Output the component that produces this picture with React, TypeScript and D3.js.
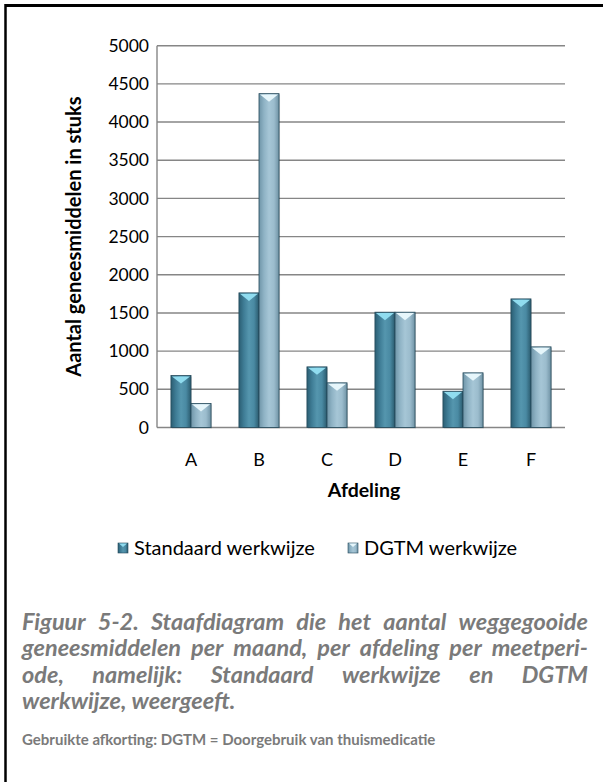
import React from "react";
import * as d3 from "d3";

const categories = ["A", "B", "C", "D", "E", "F"];
const seriesNames = ["Standaard werkwijze", "DGTM werkwijze"];
const standaard = [680, 1763, 794, 1510, 475, 1684];
const dgtm = [314, 4372, 585, 1510, 716, 1056];
const yTicks = [0, 500, 1000, 1500, 2000, 2500, 3000, 3500, 4000, 4500, 5000];

const captionLines = [
  "Figuur 5-2. Staafdiagram die het aantal weggegooide",
  "geneesmiddelen per maand, per afdeling per meetperi-",
  "ode, namelijk: Standaard werkwijze en DGTM",
  "werkwijze, weergeeft.",
];
const footnote = "Gebruikte afkorting: DGTM = Doorgebruik van thuismedicatie";

const FONT = "Lato, 'Open Sans', 'Liberation Sans', sans-serif";

let ctx: CanvasRenderingContext2D | null = null;
function measure(text: string, font: string) {
  if (!ctx) ctx = document.createElement("canvas").getContext("2d");
  if (!ctx) return text.length * 8;
  ctx.font = font;
  return ctx.measureText(text).width;
}

function Justified({ text, x, y, width, justify, fontSize }: any) {
  const font = `italic bold ${fontSize}px ${FONT}`;
  const words = text.split(" ");
  if (!justify) {
    return (
      <text x={x} y={y} style={{ font }} fill="#7a7a7a">
        {text}
      </text>
    );
  }
  const widths = words.map((w: string) => measure(w, font));
  const total = d3.sum(widths);
  const gap = (width - total) / (words.length - 1);
  let cx = x;
  return (
    <g>
      {words.map((w: string, i: number) => {
        const px = cx;
        cx += widths[i] + gap;
        return (
          <text key={i} x={px} y={y} style={{ font }} fill="#7a7a7a">
            {w}
          </text>
        );
      })}
    </g>
  );
}

export default function App() {
  const W = 603;
  const H = 782;
  const plotL = 157;
  const plotR = 565;
  const plotT = 45.7;
  const plotB = 427.5;

  const y = d3.scaleLinear().domain([0, 5000]).range([plotB, plotT]);
  const x0 = d3
    .scaleBand<string>()
    .domain(categories)
    .range([plotL, plotR])
    .paddingInner(0.41)
    .paddingOuter(0.205);
  const x1 = d3.scaleBand<string>().domain(seriesNames).range([0, x0.bandwidth()]);
  const series = [standaard, dgtm];

  const grads = [
    { id: "gStd", stops: ["#2b5e73", "#3f7d96", "#5596ae", "#4a8aa3", "#2a5a6d"], top: "#90dcef" },
    { id: "gDg", stops: ["#6f95a8", "#8fb3c5", "#a6c6d6", "#9bbccd", "#6f92a4"], top: "#e6f6fb" },
  ];

  return (
    <svg width={W} height={H} style={{ display: "block", position: "absolute", left: 0, top: 0 }}>
      <defs>
        {grads.map((g) => (
          <linearGradient key={g.id} id={g.id} x1="0" x2="1" y1="0" y2="0">
            {g.stops.map((c, i) => (
              <stop key={i} offset={`${(i / (g.stops.length - 1)) * 100}%`} stopColor={c} />
            ))}
          </linearGradient>
        ))}
      </defs>
      <rect x={0} y={0} width={W} height={H} fill="#ffffff" />
      {/* frame */}
      <line x1={5} x2={603} y1={5.5} y2={5.5} stroke="#000" strokeWidth={3} />
      <line x1={5.5} x2={5.5} y1={4} y2={782} stroke="#000" strokeWidth={2.5} />

      {/* gridlines */}
      {yTicks.map((t) => (
        <line key={t} x1={plotL} x2={plotR} y1={y(t)} y2={y(t)} stroke="#868686" strokeWidth={1.4} />
      ))}
      <line x1={plotL} x2={plotL} y1={plotT} y2={plotB} stroke="#868686" strokeWidth={1.4} />

      {/* y tick labels */}
      {yTicks.map((t) => (
        <text key={t} x={149} y={y(t)} dy="0.35em" textAnchor="end" style={{ font: `17.5px ${FONT}` }} fill="#000">
          {t}
        </text>
      ))}

      {/* bars */}
      {categories.map((c, ci) =>
        series.map((s, si) => {
          const bx = (x0(c) as number) + (x1(seriesNames[si]) as number);
          const bw = x1.bandwidth();
          const by = y(s[ci]);
          const bh = plotB - by;
          const g = grads[si];
          const tipH = Math.min(8, bh);
          return (
            <g key={c + si}>
              <rect x={bx + 1} y={by + 1} width={bw} height={bh} fill="#000" opacity={0.12} />
              <rect x={bx} y={by} width={bw} height={bh} fill={`url(#${g.id})`} stroke="#24495a" strokeWidth={0.8} />
              <polygon
                points={`${bx + 1},${by + 0.8} ${bx + bw - 1},${by + 0.8} ${bx + bw / 2},${by + tipH}`}
                fill={g.top}
              />
            </g>
          );
        })
      )}

      {/* category labels */}
      {categories.map((c) => (
        <text
          key={c}
          x={(x0(c) as number) + x0.bandwidth() / 2}
          y={460}
          dy="0.35em"
          textAnchor="middle"
          style={{ font: `18px ${FONT}` }}
          fill="#000"
        >
          {c}
        </text>
      ))}

      {/* axis titles */}
      <text x={364} y={490} dy="0.35em" textAnchor="middle" style={{ font: `bold 19.5px ${FONT}` }} fill="#000">
        Afdeling
      </text>
      <text
        transform={`translate(74, ${(plotT + plotB) / 2}) rotate(-90)`}
        textAnchor="middle"
        dy="0.35em"
        style={{ font: `bold 20px ${FONT}` }}
        fill="#000"
      >
        Aantal geneesmiddelen in stuks
      </text>

      {/* legend */}
      {seriesNames.map((n, i) => {
        const lx = i === 0 ? 118 : 348;
        const g = grads[i];
        return (
          <g key={n}>
            <rect x={lx} y={543} width={10} height={10} fill={`url(#${g.id})`} stroke="#24495a" strokeWidth={0.6} />
            <polygon points={`${lx + 1},${543.5} ${lx + 9},${543.5} ${lx + 5},${547}`} fill={g.top} />
            <text x={lx + 16} y={548} dy="0.35em" style={{ font: `20px ${FONT}` }} fill="#000">
              {n}
            </text>
          </g>
        );
      })}

      {/* caption */}
      {captionLines.map((l, i) => (
        <Justified
          key={i}
          text={l}
          x={22}
          y={630 + i * 26.3}
          width={566}
          justify={i < captionLines.length - 1}
          fontSize={23.5}
        />
      ))}
      <text x={22} y={745} style={{ font: `bold 15px ${FONT}` }} fill="#7a7a7a">
        {footnote}
      </text>
    </svg>
  );
}
